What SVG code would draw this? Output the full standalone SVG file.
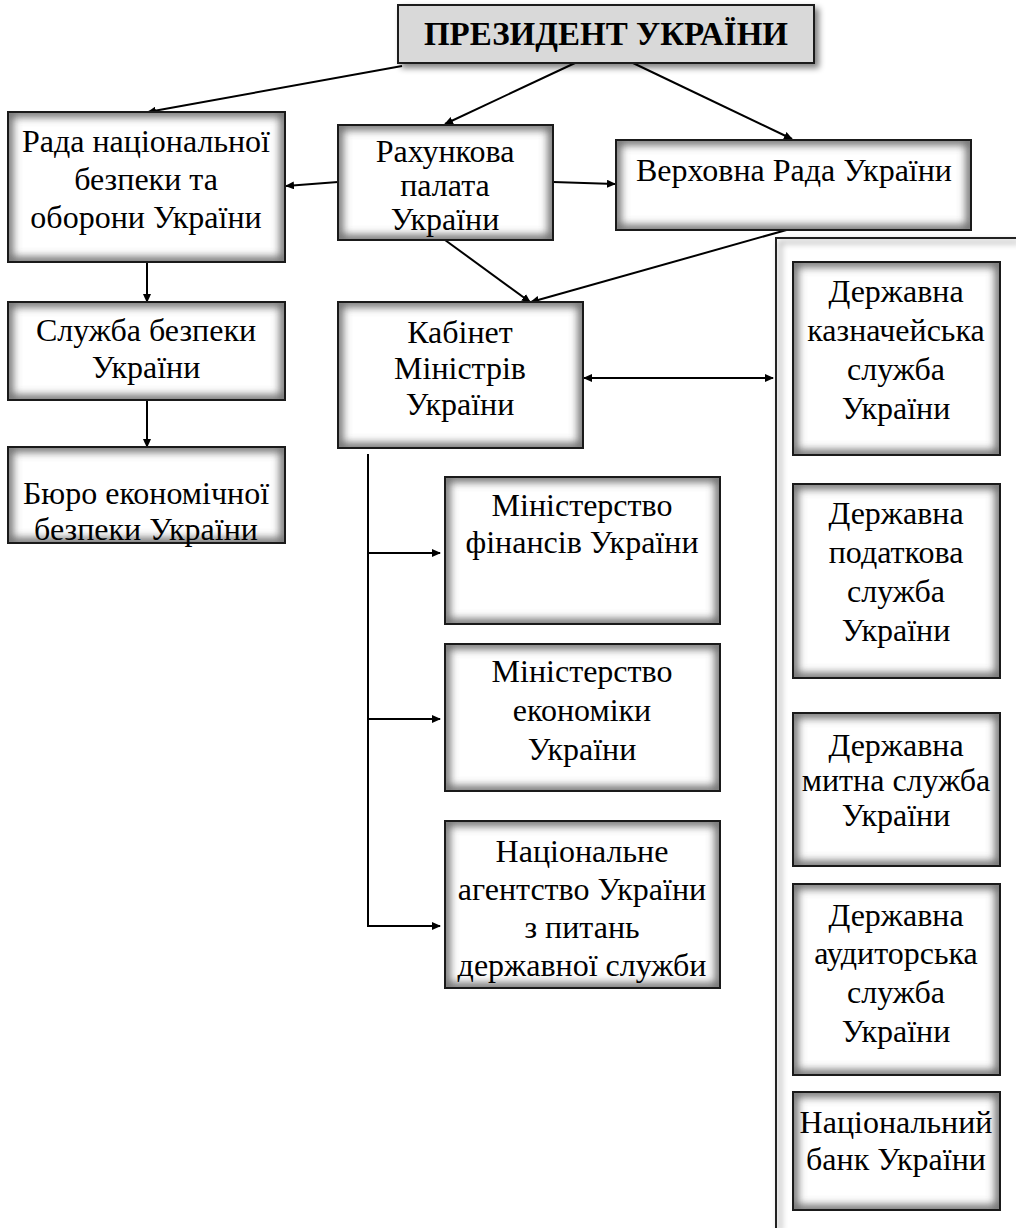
<svg xmlns="http://www.w3.org/2000/svg" width="1016" height="1228" viewBox="0 0 1016 1228">
<style>
.bg{fill:#fff}
.glow{fill:none;stroke:#505050;stroke-opacity:0.85;stroke-width:10}
.frame{fill:none;stroke:#1a1a1a;stroke-width:2}
.t{font-size:32px;fill:#000;text-anchor:middle}
.c line,.c path,.c polyline{stroke:#000;stroke-width:2;fill:none}
</style>
<defs>
<clipPath id="cb" clipPathUnits="objectBoundingBox"><rect x="0" y="0" width="1" height="1"/></clipPath>
<filter id="blur" x="-20%" y="-20%" width="140%" height="140%">
<feGaussianBlur stdDeviation="4.5"/>
</filter>
<filter id="drop" x="-10%" y="-30%" width="125%" height="170%">
<feGaussianBlur in="SourceAlpha" stdDeviation="3"/>
<feOffset dx="4" dy="4" result="s"/>
<feComponentTransfer in="s" result="s2"><feFuncA type="linear" slope="0.5"/></feComponentTransfer>
<feMerge><feMergeNode in="s2"/><feMergeNode in="SourceGraphic"/></feMerge>
</filter>
<marker id="ah" markerWidth="9" markerHeight="8" refX="8" refY="4" orient="auto-start-reverse" markerUnits="userSpaceOnUse">
<path d="M0,0 L9,4 L0,8 Z" fill="#000"/>
</marker>
</defs>

<g id="container">
<path d="M776,1228 V238 H1016" fill="none" stroke="#222" stroke-width="2" filter="url(#drop)"/>
</g>

<g class="c" id="connectors">
<line x1="402" y1="66" x2="148" y2="112" marker-end="url(#ah)"/>
<line x1="575" y1="63" x2="445" y2="124" marker-end="url(#ah)"/>
<line x1="633" y1="63" x2="792" y2="139" marker-end="url(#ah)"/>
<line x1="338" y1="182" x2="286" y2="186" marker-end="url(#ah)"/>
<line x1="553" y1="182" x2="615" y2="184" marker-end="url(#ah)"/>
<line x1="445" y1="240" x2="530" y2="302" marker-end="url(#ah)"/>
<line x1="790" y1="229" x2="531" y2="302" marker-end="url(#ah)"/>
<line x1="147" y1="262" x2="147" y2="302" marker-end="url(#ah)"/>
<line x1="147" y1="400" x2="147" y2="447" marker-end="url(#ah)"/>
<line x1="584" y1="378" x2="773" y2="378" marker-start="url(#ah)" marker-end="url(#ah)"/>
<polyline points="368,454 368,926 440,926" marker-end="url(#ah)"/>
<line x1="368" y1="553" x2="440" y2="553" marker-end="url(#ah)"/>
<line x1="368" y1="719" x2="440" y2="719" marker-end="url(#ah)"/>
</g>

<g font-family="Liberation Serif, Times New Roman, serif">
<g id="president">
<rect x="398" y="5" width="416" height="58" fill="#d9d9d9" stroke="#1a1a1a" stroke-width="2" filter="url(#drop)"/>
<text x="606" y="45" font-size="33" font-weight="bold" text-anchor="middle" fill="#000">ПРЕЗИДЕНТ УКРАЇНИ</text>
</g>

<g id="rada-nbo">
<rect class="bg" x="8" y="112" width="277" height="150"/>
<rect class="glow" x="8" y="112" width="277" height="150" clip-path="url(#cb)" filter="url(#blur)"/>
<rect class="frame" x="8" y="112" width="277" height="150"/>
<text class="t"><tspan x="146" y="152">Рада національної</tspan><tspan x="146" y="190">безпеки та</tspan><tspan x="146" y="228">оборони України</tspan></text>
</g>

<g id="rakhunkova">
<rect class="bg" x="338" y="125" width="215" height="115"/>
<rect class="glow" x="338" y="125" width="215" height="115" clip-path="url(#cb)" filter="url(#blur)"/>
<rect class="frame" x="338" y="125" width="215" height="115"/>
<text class="t" font-size="31"><tspan x="445" y="162">Рахункова</tspan><tspan x="445" y="196">палата</tspan><tspan x="445" y="230">України</tspan></text>
</g>

<g id="verkhovna">
<rect class="bg" x="616" y="140" width="355" height="90"/>
<rect class="glow" x="616" y="140" width="355" height="90" clip-path="url(#cb)" filter="url(#blur)"/>
<rect class="frame" x="616" y="140" width="355" height="90"/>
<text class="t" x="794" y="181">Верховна Рада України</text>
</g>

<g id="sbu">
<rect class="bg" x="8" y="302" width="277" height="98"/>
<rect class="glow" x="8" y="302" width="277" height="98" clip-path="url(#cb)" filter="url(#blur)"/>
<rect class="frame" x="8" y="302" width="277" height="98"/>
<text class="t"><tspan x="146" y="341">Служба безпеки</tspan><tspan x="146" y="378">України</tspan></text>
</g>

<g id="beb">
<rect class="bg" x="8" y="447" width="277" height="96"/>
<rect class="glow" x="8" y="447" width="277" height="96" clip-path="url(#cb)" filter="url(#blur)"/>
<rect class="frame" x="8" y="447" width="277" height="96"/>
<text class="t"><tspan x="146" y="504">Бюро економічної</tspan><tspan x="146" y="540">безпеки України</tspan></text>
</g>

<g id="kmu">
<rect class="bg" x="338" y="302" width="245" height="146"/>
<rect class="glow" x="338" y="302" width="245" height="146" clip-path="url(#cb)" filter="url(#blur)"/>
<rect class="frame" x="338" y="302" width="245" height="146"/>
<text class="t"><tspan x="460" y="343">Кабінет</tspan><tspan x="460" y="379">Міністрів</tspan><tspan x="460" y="415">України</tspan></text>
</g>

<g id="minfin">
<rect class="bg" x="445" y="477" width="275" height="147"/>
<rect class="glow" x="445" y="477" width="275" height="147" clip-path="url(#cb)" filter="url(#blur)"/>
<rect class="frame" x="445" y="477" width="275" height="147"/>
<text class="t"><tspan x="582" y="516">Міністерство</tspan><tspan x="582" y="553">фінансів України</tspan></text>
</g>

<g id="mineco">
<rect class="bg" x="445" y="644" width="275" height="147"/>
<rect class="glow" x="445" y="644" width="275" height="147" clip-path="url(#cb)" filter="url(#blur)"/>
<rect class="frame" x="445" y="644" width="275" height="147"/>
<text class="t"><tspan x="582" y="682">Міністерство</tspan><tspan x="582" y="721">економіки</tspan><tspan x="582" y="760">України</tspan></text>
</g>

<g id="nads">
<rect class="bg" x="445" y="821" width="275" height="167"/>
<rect class="glow" x="445" y="821" width="275" height="167" clip-path="url(#cb)" filter="url(#blur)"/>
<rect class="frame" x="445" y="821" width="275" height="167"/>
<text class="t"><tspan x="582" y="862">Національне</tspan><tspan x="582" y="900">агентство України</tspan><tspan x="582" y="938">з питань</tspan><tspan x="582" y="976">державної служби</tspan></text>
</g>

<g id="dks">
<rect class="bg" x="793" y="262" width="207" height="193"/>
<rect class="glow" x="793" y="262" width="207" height="193" clip-path="url(#cb)" filter="url(#blur)"/>
<rect class="frame" x="793" y="262" width="207" height="193"/>
<text class="t"><tspan x="896" y="302">Державна</tspan><tspan x="896" y="341">казначейська</tspan><tspan x="896" y="380">служба</tspan><tspan x="896" y="419">України</tspan></text>
</g>

<g id="dps">
<rect class="bg" x="793" y="484" width="207" height="194"/>
<rect class="glow" x="793" y="484" width="207" height="194" clip-path="url(#cb)" filter="url(#blur)"/>
<rect class="frame" x="793" y="484" width="207" height="194"/>
<text class="t"><tspan x="896" y="524">Державна</tspan><tspan x="896" y="563">податкова</tspan><tspan x="896" y="602">служба</tspan><tspan x="896" y="641">України</tspan></text>
</g>

<g id="dms">
<rect class="bg" x="793" y="713" width="207" height="153"/>
<rect class="glow" x="793" y="713" width="207" height="153" clip-path="url(#cb)" filter="url(#blur)"/>
<rect class="frame" x="793" y="713" width="207" height="153"/>
<text class="t"><tspan x="896" y="756">Державна</tspan><tspan x="896" y="791">митна служба</tspan><tspan x="896" y="826">України</tspan></text>
</g>

<g id="das">
<rect class="bg" x="793" y="884" width="207" height="191"/>
<rect class="glow" x="793" y="884" width="207" height="191" clip-path="url(#cb)" filter="url(#blur)"/>
<rect class="frame" x="793" y="884" width="207" height="191"/>
<text class="t"><tspan x="896" y="926">Державна</tspan><tspan x="896" y="964">аудиторська</tspan><tspan x="896" y="1003">служба</tspan><tspan x="896" y="1042">України</tspan></text>
</g>

<g id="nbu">
<rect class="bg" x="793" y="1092" width="207" height="118"/>
<rect class="glow" x="793" y="1092" width="207" height="118" clip-path="url(#cb)" filter="url(#blur)"/>
<rect class="frame" x="793" y="1092" width="207" height="118"/>
<text class="t"><tspan x="896" y="1133">Національний</tspan><tspan x="896" y="1170">банк України</tspan></text>
</g>
</g>
</svg>
